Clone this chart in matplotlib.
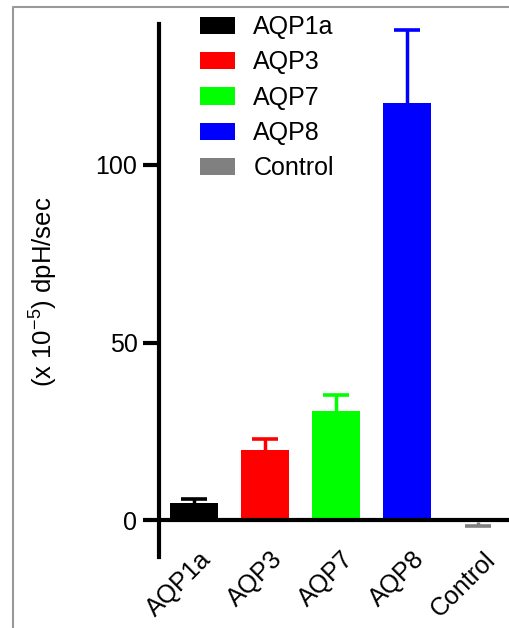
import matplotlib
matplotlib.use("Agg")
import matplotlib.pyplot as plt
from matplotlib.lines import Line2D
from matplotlib.patches import Patch
from matplotlib.transforms import ScaledTranslation

# Data
groups = ["AQP1a", "AQP3", "AQP7", "AQP8", "Control"]
means = [4.7, 19.7, 30.7, 117.5, -0.5]
errors = [1.1, 3.1, 4.6, 20.5, 1.1]
colors = ["#000000", "#ff0000", "#00ff00", "#0000ff", "#808080"]
yticks = [0, 50, 100]

plt.rcParams["font.family"] = ["Liberation Sans", "DejaVu Sans"]
plt.rcParams["mathtext.fontset"] = "custom"
plt.rcParams["mathtext.rm"] = "Liberation Sans"

fig = plt.figure(figsize=(5.10, 6.28), dpi=100)
ax = fig.add_axes([159 / 510, 1 - 557 / 628, 1 - 159 / 510, (557 - 24) / 628])

x = list(range(len(groups)))
ax.bar(x, means, width=0.68, color=colors, zorder=2)

# one-sided error bars (up for positive, down for negative)
for xi, m, e, c in zip(x, means, errors, colors):
    yerr = [[0], [e]] if m >= 0 else [[e], [0]]
    _, caps, _ = ax.errorbar(xi, m, yerr=yerr, fmt="none", ecolor=c,
                             elinewidth=2.5, capsize=9.7, capthick=2.6,
                             zorder=1)
    for cap in caps:
        if abs(cap.get_ydata()[0] - m) < 1e-9:
            cap.set_visible(False)

ax.axhline(0, color="black", lw=3, zorder=3)

ax.set_xlim(-0.49, 4.45)
ax.set_ylim(-10.4, 139.7)
ax.set_yticks(yticks)
ax.set_xticks(x)
ax.set_xticklabels(groups, rotation=45, ha="right", rotation_mode="anchor")
ax.tick_params(axis="x", length=0, labelsize=18, pad=-7)
ax.tick_params(axis="y", length=11.5, width=3, labelsize=18, pad=4)
shift = ScaledTranslation(0.05, 0, fig.dpi_scale_trans)
for lab in ax.get_xticklabels():
    lab.set_transform(lab.get_transform() + shift)

for s in ["top", "right", "bottom"]:
    ax.spines[s].set_visible(False)
ax.spines["left"].set_linewidth(3)

fig.text(43 / 510, 1 - 292 / 628, r"(x 10$^{\mathregular{-5}}$) dpH/sec",
         rotation=90, ha="center", va="center", fontsize=18.5)

handles = [Patch(facecolor=c, edgecolor="none") for c in colors]
ax.legend(handles, groups, loc="upper left", bbox_to_anchor=(0.082, 1.04),
          frameon=False, fontsize=18, handlelength=1.4, handleheight=0.68,
          handletextpad=0.72, labelspacing=0.45, borderpad=0)

# gray frame around the figure (left and top edges visible)
fig.add_artist(Line2D([13 / 510, 13 / 510, 1.0], [0.0, 1 - 7 / 628, 1 - 7 / 628],
                      transform=fig.transFigure, color="#999999", lw=1.5))

fig.savefig("out.png", dpi=100)
